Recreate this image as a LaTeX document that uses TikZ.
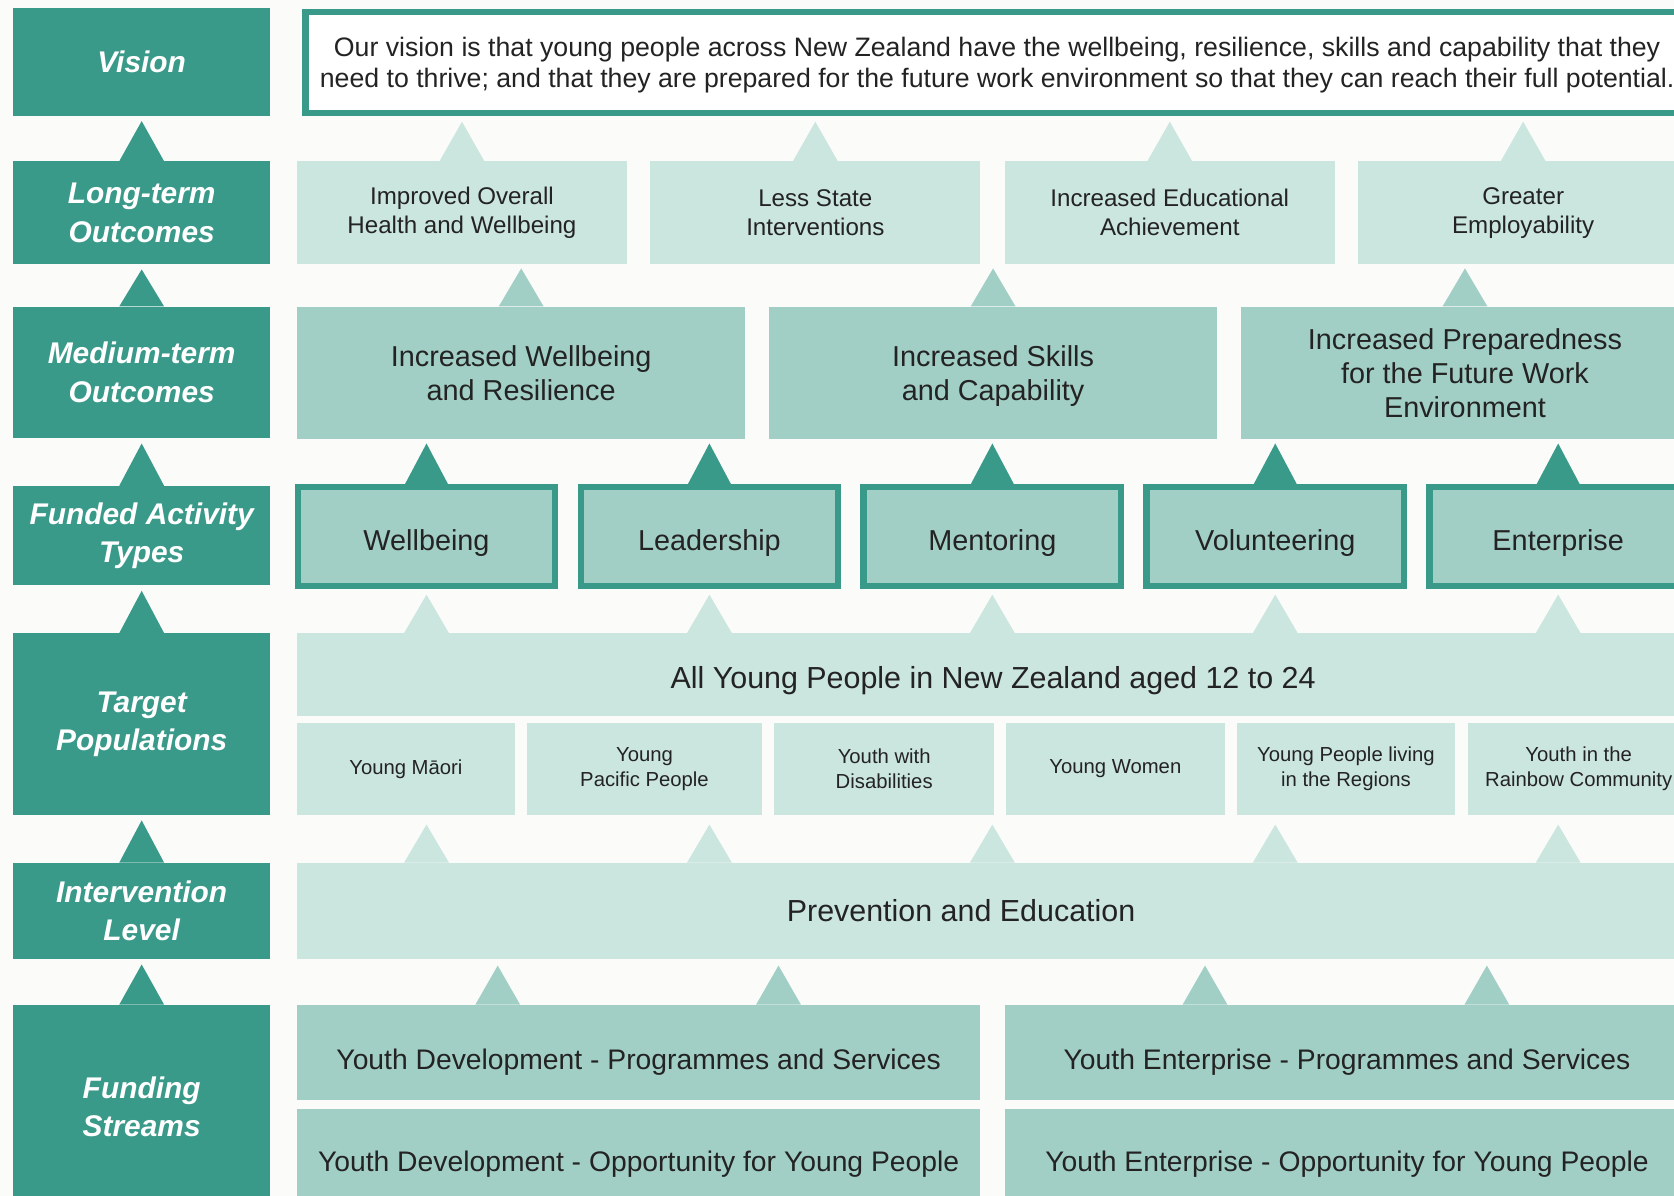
\documentclass[tikz,border=0pt]{standalone}
\usepackage{fontspec}
\setmainfont{Liberation Sans}
\usetikzlibrary{calc}
\definecolor{tealdark}{HTML}{3A9A8A}
\definecolor{tealmid}{HTML}{A2CFC5}
\definecolor{teallight}{HTML}{CBE5DF}
\definecolor{paper}{HTML}{FBFBFA}
\definecolor{ink}{HTML}{232323}

\begin{document}
\begin{tikzpicture}[x=1pt,y=-1pt]
            \tikzstyle{every node}=[anchor=north west,inner sep=0pt,align=center,text=ink]
            \tikzstyle{lab}=[fill=tealdark,text=white,minimum width=241pt,font=\fontsize{28}{36}\selectfont\bfseries\itshape]
            \tikzstyle{lite}=[fill=teallight]
            \tikzstyle{mid}=[fill=tealmid]
            \tikzstyle{longbox}=[lite,minimum width=309pt,minimum height=96pt,font=\fontsize{22.6}{27}\selectfont]
            \tikzstyle{medbox}=[mid,minimum width=420pt,minimum height=124pt,text depth=0pt,font=\fontsize{27}{32}\selectfont]
            \tikzstyle{act}=[mid,draw=tealdark,line width=6pt,minimum width=241pt,minimum height=93pt,text height=31pt,font=\fontsize{27}{32}\selectfont]
            \tikzstyle{popbox}=[lite,minimum height=86pt,font=\fontsize{19}{23}\selectfont]
            \tikzstyle{streambox}=[mid,minimum height=89pt,font=\fontsize{26.5}{32}\selectfont]
            \clip (0,0) rectangle (1568,1120);
            \fill[paper] (0,0) rectangle (1568,1120);
            \node[lab,minimum height=101pt] (lvis) at (12,7) {Vision};
            \node[lab,minimum height=96pt] (llong) at (12,151) {Long-term\\Outcomes};
            \node[lab,minimum height=123pt] (lmed) at (12,287) {Medium-term\\Outcomes};
            \node[lab,minimum height=93pt] (lfund) at (12,455) {Funded Activity\\Types};
            \node[lab,minimum height=170pt] (ltarg) at (12,593) {Target\\Populations};
            \node[lab,minimum height=90pt] (linter) at (12,808) {Intervention\\Level};
            \node[lab,minimum height=191pt] (lstream) at (12,941) {Funding\\Streams};
            \node[fill=white,draw=tealdark,line width=6pt,minimum width=1296pt,minimum height=95pt,text depth=0pt,font=\fontsize{25}{29}\selectfont] (vis) at (283,8) {Our vision is that young people across New Zealand have the wellbeing, resilience, skills and capability that they\\need to thrive; and that they are prepared for the future work environment so that they can reach their full potential.};
            \node[longbox] (health) at (278,151) {Improved Overall\\Health and Wellbeing};
            \node[longbox] (state) at (609,151) {Less State\\Interventions};
            \node[longbox] (educ) at (941,151) {Increased Educational\\Achievement};
            \node[longbox] (employ) at (1272,151) {Greater\\Employability};
            \node[medbox] (wellres) at (278,287) {Increased Wellbeing\\and Resilience};
            \node[medbox] (skills) at (720,287) {Increased Skills\\and Capability};
            \node[medbox] (prepared) at (1162,287) {Increased Preparedness\\for the Future Work\\Environment};
            \node[act] (wellbeing) at (276,453) {Wellbeing};
            \node[act] (leadership) at (541,453) {Leadership};
            \node[act] (mentoring) at (806,453) {Mentoring};
            \node[act] (volunteering) at (1071,453) {Volunteering};
            \node[act] (enterprise) at (1336,453) {Enterprise};
            \node[lite,minimum width=1304pt,minimum height=77pt,text height=32pt,font=\fontsize{28.5}{34}\selectfont] (allyp) at (278,593) {All Young People in New Zealand aged 12 to 24};
            \node[popbox,minimum width=204pt] (maori) at (278,677) {Young Māori};
            \node[popbox,minimum width=221pt] (pacific) at (493,677) {Young\\Pacific People};
            \node[popbox,minimum width=206pt] (disab) at (725,677) {Youth with\\Disabilities};
            \node[popbox,minimum width=205pt] (women) at (942,677) {Young Women};
            \node[popbox,minimum width=205pt] (regions) at (1158,677) {Young People living\\in the Regions};
            \node[popbox,minimum width=207pt] (rainbow) at (1375,677) {Youth in the\\Rainbow Community};
            \node[lite,minimum width=1304pt,minimum height=90pt] (prevent) at (278,808) {};
            \node[anchor=center,font=\fontsize{28.5}{34}\selectfont] (prevtxt) at ($(prevent.center)+(-30,0)$) {Prevention and Education};
            \node[streambox,minimum width=640pt,text height=37pt] (ydps) at (278,941) {Youth Development - Programmes and Services};
            \node[streambox,minimum width=641pt,text height=37pt] (yeps) at (941,941) {Youth Enterprise - Programmes and Services};
            \node[streambox,minimum width=640pt,minimum height=98pt,text height=23pt] (ydop) at (278,1039) {Youth Development - Opportunity for Young People};
            \node[streambox,minimum width=641pt,minimum height=98pt,text height=23pt] (yeop) at (941,1039) {Youth Enterprise - Opportunity for Young People};
            \foreach \lo/\up in {llong/lvis,lmed/llong,lfund/lmed,ltarg/lfund,linter/ltarg,lstream/linter}
                \fill[tealdark] ($(\lo.north)+(-21,0)$) -- ($(\lo.north)+(21,0)$) -- ($(\lo.north |- \up.south)+(0,5)$) -- cycle;
            \foreach \lo in {health,state,educ,employ}
                \fill[teallight] ($(\lo.north)+(-21,0)$) -- ($(\lo.north)+(21,0)$) -- ($(\lo.north |- vis.south)+(0,5)$) -- cycle;
            \foreach \lo in {wellres,skills,prepared}
                \fill[tealmid] ($(\lo.north)+(-21,0)$) -- ($(\lo.north)+(21,0)$) -- ($(\lo.north |- health.south)+(0,4)$) -- cycle;
            \foreach \lo in {wellbeing,leadership,mentoring,volunteering,enterprise}{
                \fill[tealdark] ($(\lo.north)+(-21,2)$) -- ($(\lo.north)+(21,2)$) -- ($(\lo.north |- wellres.south)+(0,4)$) -- cycle;
                \fill[teallight] ($(\lo.south |- allyp.north)+(-21,0)$) -- ($(\lo.south |- allyp.north)+(21,0)$) -- ($(\lo.south)+(0,5)$) -- cycle;
                \fill[teallight] ($(\lo.south |- prevent.north)+(-21,0)$) -- ($(\lo.south |- prevent.north)+(21,0)$) -- ($(\lo.south |- maori.south)+(0,9)$) -- cycle;
            }
            \foreach \lo/\dx in {ydps/-132,ydps/131,yeps/-133,yeps/131}
                \fill[tealmid] ($(\lo.north)+(\dx-21,0)$) -- ($(\lo.north)+(\dx+21,0)$) -- ($(\lo.north |- prevent.south)+(\dx,6)$) -- cycle;
        \end{tikzpicture}
\end{document}
